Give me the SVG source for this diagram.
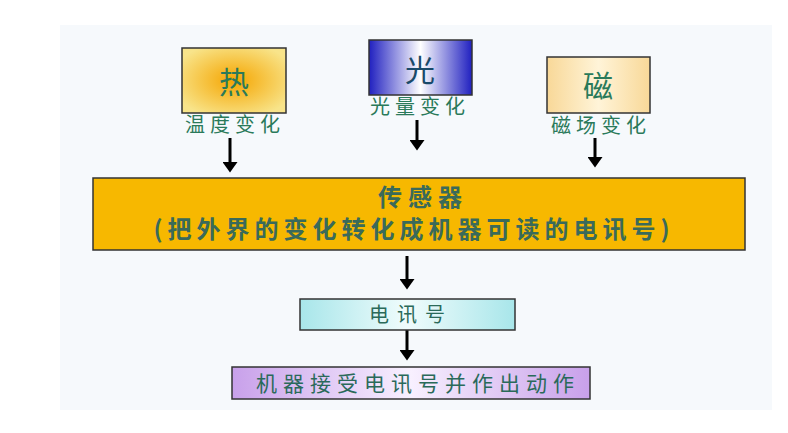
<svg xmlns="http://www.w3.org/2000/svg" width="788" height="433" viewBox="0 0 788 433">
<style>
.b{stroke:#333;stroke-width:1.5}
.t{font-family:"Noto Sans CJK SC","Liberation Serif",serif;text-anchor:middle}
.g{fill:#2a7a5a}
.l{font-size:20px;letter-spacing:5px}
.c{stroke:#000;stroke-width:3}
</style>
<defs>
<marker id="a" markerWidth="6" markerHeight="5" refX="2" refY="2.5" orient="auto"><path d="M0,0L3.5,2.5L0,5z" fill="#000"/></marker>
<radialGradient id="hot" cx="0.5" cy="0.5" r="0.6"><stop offset="0" stop-color="#f5a500"/><stop offset="1" stop-color="#f8e48a"/></radialGradient>
<linearGradient id="lt"><stop offset="0" stop-color="#2020c0"/><stop offset="0.5" stop-color="#ffffff"/><stop offset="1" stop-color="#2020c0"/></linearGradient>
<linearGradient id="mg"><stop offset="0" stop-color="#f8d898"/><stop offset="0.5" stop-color="#fff4d8"/><stop offset="1" stop-color="#f8d898"/></linearGradient>
<linearGradient id="sg"><stop offset="0" stop-color="#a8e6ea"/><stop offset="0.5" stop-color="#f0fcfc"/><stop offset="1" stop-color="#a8e6ea"/></linearGradient>
<linearGradient id="pg"><stop offset="0" stop-color="#c8a0ea"/><stop offset="0.5" stop-color="#f8f0ff"/><stop offset="1" stop-color="#c8a0ea"/></linearGradient>
</defs>
<rect width="788" height="433" fill="#fff"/>
<rect x="60" y="25" width="712" height="385" fill="#f6f9fc"/>
<g id="connectors">
<line class="c" x1="230" y1="138" x2="230" y2="168" marker-end="url(#a)"/>
<line class="c" x1="417" y1="120" x2="417" y2="146" marker-end="url(#a)"/>
<line class="c" x1="595" y1="138" x2="595" y2="163" marker-end="url(#a)"/>
<line class="c" x1="407" y1="256" x2="407" y2="285" marker-end="url(#a)"/>
<line class="c" x1="407" y1="330" x2="407" y2="356" marker-end="url(#a)"/>
</g>
<g id="heat"><rect class="b" x="182" y="48" width="104" height="65" fill="url(#hot)"/><text class="t g" x="234" y="93" font-size="30">热</text><text class="t g l" x="235" y="132">温度变化</text></g>
<g id="light"><rect class="b" x="369" y="40" width="103" height="55" fill="url(#lt)"/><text class="t" x="420" y="81" font-size="30" fill="#1a4a6a">光</text><text class="t g l" x="420" y="114">光量变化</text></g>
<g id="magnet"><rect class="b" x="547" y="57" width="103" height="56" fill="url(#mg)"/><text class="t g" x="598" y="97" font-size="30">磁</text><text class="t g l" x="601" y="133">磁场变化</text></g>
<g id="sensor"><rect class="b" x="93" y="178" width="652" height="72" fill="#f7b800"/><text class="t" x="423" y="206" font-size="24" font-weight="bold" letter-spacing="6" fill="#3a6a5a">传感器</text><text class="t" x="414" y="238" font-size="24" font-weight="bold" letter-spacing="5" fill="#3a6a5a">(把外界的变化转化成机器可读的电讯号)</text></g>
<g id="signal"><rect class="b" x="300" y="299" width="215" height="31" fill="url(#sg)"/><text class="t" x="411" y="322" font-size="20" letter-spacing="8" fill="#2a6a5a">电讯号</text></g>
<g id="action"><rect class="b" x="232" y="367" width="358" height="32" fill="url(#pg)"/><text class="t" x="418" y="391" font-size="21" letter-spacing="6" fill="#2a6a5a">机器接受电讯号并作出动作</text></g>
</svg>
